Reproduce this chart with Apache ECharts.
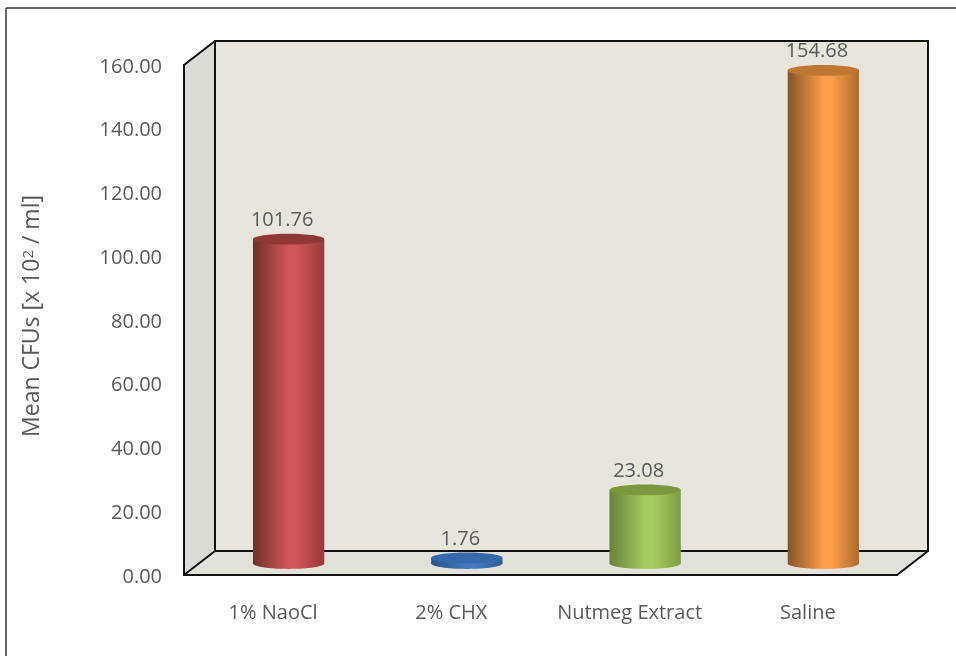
<!DOCTYPE html>
<html>
<head>
<meta charset="utf-8">
<style>html,body{margin:0;padding:0;background:#fff}#chart{width:956px;height:656px}</style>
<script src="https://cdn.jsdelivr.net/npm/echarts@6/dist/echarts.min.js"></script>
</head>
<body>
<div id="chart"></div>
<script>
// Mean colony-forming units for each irrigant
const categories = ['1% NaoCl', '2% CHX', 'Nutmeg Extract', 'Saline'];
const values = [101.76, 1.76, 23.08, 154.68];
const valueLabels = ['101.76', '1.76', '23.08', '154.68'];

// Fill colours per cylinder: edge, centre, far edge, top cap
const bodyDark = ['#70302e', '#2a5488', '#66823a', '#84552a'];
const bodyLight = ['#d25656', '#4179c0', '#a6cb5e', '#fe9e48'];
const bodyMid = ['#97393a', '#2f5f9c', '#7e9d44', '#ad6c30'];
const capColor = ['#8f3836', '#3469ab', '#7b983f', '#bd7731'];

// Oblique depth of the box the chart sits in
const depthX = 31, depthY = -24;
const FONT = '"Open Sans"';
const TEXT = '#595959';

function renderBox(params, api) {
  const c = params.coordSys;
  const L = c.x, R = c.x + c.width, T = c.y, B = c.y + c.height;
  const poly = (pts, fill) => ({type: 'polygon', shape: {points: pts}, style: {fill: fill}});
  const seg = (x1, y1, x2, y2) => ({
    type: 'line', shape: {x1, y1, x2, y2},
    style: {stroke: '#111', lineWidth: 2, lineCap: 'round'}
  });
  const dx = depthX, dy = depthY;
  return {
    type: 'group',
    children: [
      poly([[L + dx, T + dy], [R + dx, T + dy], [R + dx, B + dy], [L + dx, B + dy]], '#e8e6dc'),
      poly([[L, T], [L + dx, T + dy], [L + dx, B + dy], [L, B]], '#dcdcd5'),
      poly([[L, B], [R, B], [R + dx, B + dy], [L + dx, B + dy]], '#e2e2da'),
      seg(L, T, L, B), seg(L, T, L + dx, T + dy), seg(L + dx, T + dy, R + dx, T + dy),
      seg(L + dx, T + dy, L + dx, B + dy), seg(R + dx, T + dy, R + dx, B + dy),
      seg(L, B, L + dx, B + dy), seg(L + dx, B + dy, R + dx, B + dy),
      seg(L, B, R, B), seg(R, B, R + dx, B + dy)
    ]
  };
}

function renderCylinder(params, api) {
  const i = params.dataIndex;
  const base = api.coord([api.value(0), 0]);
  const top = api.coord([api.value(0), api.value(1)]);
  const rx = api.size([1, 0])[0] * 0.2;
  const ry = 5.4;
  const cx = base[0] + depthX / 2;
  const yBase = base[1] - 11.5;
  const yTop = top[1] - 11.5;
  const shade = {
    type: 'linear', x: 0, y: 0, x2: 1, y2: 0,
    colorStops: [
      {offset: 0, color: bodyDark[i]},
      {offset: 0.5, color: bodyLight[i]},
      {offset: 0.62, color: bodyLight[i]},
      {offset: 1, color: bodyMid[i]}
    ]
  };
  return {
    type: 'group',
    children: [
      {type: 'ellipse', shape: {cx, cy: yBase, rx, ry}, style: {fill: shade}},
      {type: 'rect', shape: {x: cx - rx, y: yTop, width: rx * 2, height: yBase - yTop}, style: {fill: shade}},
      {type: 'ellipse', shape: {cx, cy: yTop, rx, ry}, style: {fill: capColor[i]}},
      {
        type: 'text', x: cx - 6.5, y: yTop - 19,
        style: {
          text: valueLabels[i], fill: TEXT, font: '20px ' + FONT,
          align: 'center', verticalAlign: 'middle'
        }
      }
    ]
  };
}

const chart = echarts.init(document.getElementById('chart'), null, {renderer: 'canvas'});
chart.setOption({
  animation: false,
  backgroundColor: '#ffffff',
  grid: {left: 184, top: 65, width: 713, height: 510, containLabel: false},
  xAxis: {
    type: 'category', data: categories,
    axisLine: {show: false}, axisTick: {show: false}, splitLine: {show: false},
    axisLabel: {color: TEXT, fontFamily: FONT, fontSize: 20, margin: 28, interval: 0, hideOverlap: false}
  },
  yAxis: {
    type: 'value', min: 0, max: 160, interval: 20,
    axisLine: {show: false}, axisTick: {show: false}, splitLine: {show: false},
    axisLabel: {
      color: TEXT, fontFamily: FONT, fontSize: 20, margin: 22,
      verticalAlign: 'top', lineHeight: 4, formatter: v => v.toFixed(2)
    },
    name: 'Mean CFUs [x 10{s|2} / ml]', nameLocation: 'middle', nameGap: 140,
    nameTextStyle: {
      color: TEXT, fontFamily: FONT, fontSize: 23, padding: [0, 0, 0, 8],
      rich: {s: {color: TEXT, fontFamily: FONT, fontSize: 15, verticalAlign: 'top'}}
    }
  },
  graphic: [
    {type: 'line', shape: {x1: 6, y1: 8, x2: 956, y2: 8}, style: {stroke: '#333', lineWidth: 1.5}},
    {type: 'line', shape: {x1: 6, y1: 8, x2: 6, y2: 656}, style: {stroke: '#333', lineWidth: 1.5}}
  ],
  series: [
    {type: 'custom', z: 1, clip: false, renderItem: renderBox, data: [[0, 0]], encode: {x: 0, y: 1}, silent: true},
    {
      type: 'custom', z: 2, clip: false, renderItem: renderCylinder,
      data: values.map((v, i) => [i, v]), encode: {x: 0, y: 1}
    }
  ]
});
</script>
</body>
</html>
